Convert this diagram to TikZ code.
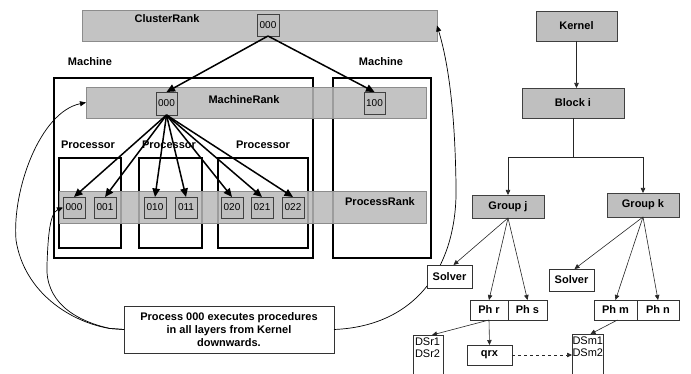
\documentclass[tikz,border=0pt]{standalone}
\usepackage{fontspec}
\setmainfont{Liberation Sans}
\usetikzlibrary{arrows.meta}

\begin{document}
\begin{tikzpicture}[x=1pt,y=-1pt,
  every node/.style={inner sep=0pt, outer sep=0pt},
  bar/.style={draw=black!45, fill=black!28, fill opacity=0.85, text opacity=1, anchor=north west},
  rank/.style={draw=black!75, fill=black!25, anchor=north west, font=\fontsize{10}{12}\selectfont},
  frame/.style={draw, line width=1.6pt, anchor=north west},
  pframe/.style={draw, line width=1.4pt, anchor=north west},
  lbl/.style={font=\fontsize{11}{13}\selectfont\bfseries},
  tbox/.style={draw=black!75, fill=black!25, anchor=north west, font=\fontsize{11}{13}\selectfont\bfseries},
  wbox/.style={draw=black!80, fill=white, anchor=north west, font=\fontsize{11}{13}\selectfont\bfseries},
  big/.style={line width=1.5pt, -{Triangle[length=8.5pt,width=7.5pt]}},
  tarrow/.style={draw=black!85, line width=0.6pt, -{Triangle[length=5pt,width=4.5pt]}},
  curve/.style={line width=0.7pt}
]
\useasboundingbox (0,0) rectangle (691,374);

% ---- machine and processor frames ----
\node[frame, minimum width=259pt, minimum height=180pt] (m1) at (54,78) {};
\node[frame, minimum width=98pt, minimum height=180pt] (m2) at (333,78) {};
\node[lbl] (m1l) at (90,62) {Machine};
\node[lbl] (m2l) at (381,62) {Machine};
\node[pframe, minimum width=62pt, minimum height=90pt] (p1) at (59,158) {};
\node[pframe, minimum width=63pt, minimum height=90pt] (p2) at (139,158) {};
\node[pframe, minimum width=90pt, minimum height=90pt] (p3) at (218,158) {};
\node[lbl] (p1l) at (88,145) {Processor};
\node[lbl] (p2l) at (169,145) {Processor};
\node[lbl] (p3l) at (263,145) {Processor};

% ---- rank layers ----
\node[bar, minimum width=355pt, minimum height=31pt] (cr) at (82,10) {};
\node[lbl] (crl) at (167,19) {ClusterRank};
\node[rank, minimum width=22pt, minimum height=22pt] (cr0) at (257,14) {000};

\node[bar, minimum width=340pt, minimum height=31pt] (mr) at (86,87) {};
\node[lbl] (mrl) at (244,100) {MachineRank};
\node[rank, minimum width=21pt, minimum height=23pt] (mr0) at (156,92) {000};
\node[rank, minimum width=21pt, minimum height=22pt] (mr1) at (364,92) {100};

\node[bar, minimum width=367pt, minimum height=32pt] (pr) at (59,191) {};
\node[lbl] (prl) at (380,202) {ProcessRank};
\foreach \nm/\xx in {000/63,001/94,010/144,011/175,020/221,021/251,022/282}
  \node[rank, minimum width=22pt, minimum height=21pt] (r\nm) at (\xx,197) {\nm};

% ---- rank arrows ----
\draw[big] (cr0.south) -- (mr0.north);
\draw[big] (cr0.south) -- (mr1.north);
\foreach \nm in {000,001,010,011,020,021,022}
  \draw[big] (mr0.south) -- (r\nm.north);

% ---- note box and its curves ----
\node[draw=black!80, fill=white, anchor=north west, minimum width=210pt, minimum height=47pt] (note) at (124,306) {};
\node[align=center, font=\fontsize{11}{13.3}\selectfont\bfseries] (notet) at (note.center)
  {Process 000 executes procedures\\in all layers from Kernel\\downwards.};

\draw[curve, -{Triangle[length=6pt,width=5pt]}] (note.west) -- ++(-14,-1)
  .. controls (70,322) and (24,292) .. (16,240)
  .. controls (12,190) and (40,112) .. (mr.west);
\draw[curve, -{Triangle[length=6pt,width=5pt]}] (note.west) -- ++(-14,-1)
  .. controls (72,320) and (45,300) .. (47,265)
  .. controls (48,235) and (50,213) .. (r000.west);
\draw[curve, -{Triangle[length=6pt,width=5pt]}] (note.east) .. controls (420,326) and (458,262) .. (456,185)
  .. controls (455,115) and (449,65) .. (cr.east);

% ---- task tree ----
\node[tbox, minimum width=81pt, minimum height=30pt] (kern) at (536,11) {Kernel};
\node[tbox, minimum width=102pt, minimum height=30pt] (blk) at (522,88) {Block i};
\node[tbox, minimum width=72pt, minimum height=23pt] (gj) at (472,195) {Group j};
\node[tbox, minimum width=72pt, minimum height=24pt] (gk) at (607,193) {Group k};
\node[wbox, minimum width=45pt, minimum height=23pt] (sj) at (427,265) {Solver};
\node[wbox, minimum width=45pt, minimum height=22pt] (sk) at (549,269) {Solver};
\node[wbox, minimum width=38pt, minimum height=20pt] (phr) at (470,300) {Ph r};
\node[wbox, minimum width=39pt, minimum height=20pt] (phs) at (508,300) {Ph s};
\node[wbox, minimum width=43pt, minimum height=20pt] (phm) at (594,300) {Ph m};
\node[wbox, minimum width=42pt, minimum height=20pt] (phn) at (637,300) {Ph n};
\node[wbox, minimum width=30pt, minimum height=50pt] (dsr) at (413,335) {};
\node[align=left, anchor=north west, font=\fontsize{11}{11.5}\selectfont] (dsrt) at (415,338) {DSr1\\DSr2};
\node[wbox, minimum width=45pt, minimum height=20pt] (qrx) at (467,345) {qrx};
\node[wbox, minimum width=31pt, minimum height=50pt] (dsm) at (572,334) {};
\node[align=left, anchor=north west, font=\fontsize{11}{11.5}\selectfont] (dsmt) at (572.5,337) {DSm1\\DSm2};

\coordinate (split) at (573,157);
\draw[tarrow] (kern.south) -- (kern.south |- blk.north);
\draw[draw=black!85, line width=0.6pt] (blk.south) -- (split);
\draw[tarrow] (split) -| (gj.north);
\draw[tarrow] (split) -| (gk.north);
\draw[tarrow] (gj.south) -- ([xshift=4pt]sj.north);
\draw[tarrow] (gj.south) -- (phr.north);
\draw[tarrow] (gj.south) -- (phs.north);
\draw[tarrow] (gk.south) -- ([xshift=3pt]sk.north);
\draw[tarrow] (gk.south) -- (phm.north);
\draw[tarrow] (gk.south) -- (phn.north);
\draw[tarrow] (phr.south) -- ([xshift=4pt]dsr.north);
\draw[tarrow] (phr.south) -- (qrx.north);
\draw[tarrow] ([xshift=2pt]phm.south) -- ([xshift=3pt]dsm.north);
\draw[tarrow, dashed] (qrx.east) -- (qrx.east -| dsm.west);
\end{tikzpicture}
\end{document}
